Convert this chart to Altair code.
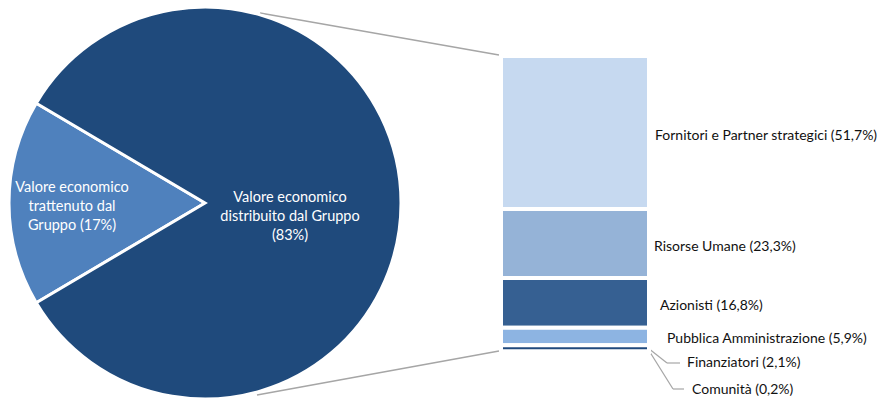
import math
import altair as alt
import pandas as pd

# ---------------- data ----------------
PIE_CATEGORIES = ["Valore economico trattenuto dal Gruppo",
                  "Valore economico distribuito dal Gruppo"]
PIE_VALUES = [17, 83]
PIE_LABELS = ["Valore economico|trattenuto dal|Gruppo (17%)",
              "Valore economico|distribuito dal Gruppo|(83%)"]

BAR_CATEGORIES = ["Fornitori e Partner strategici", "Risorse Umane", "Azionisti",
                  "Pubblica Amministrazione", "Finanziatori", "Comunità"]
BAR_VALUES = [51.7, 23.3, 16.8, 5.9, 2.1, 0.2]
BAR_LABELS = ["Fornitori e Partner strategici (51,7%)", "Risorse Umane (23,3%)",
              "Azionisti (16,8%)", "Pubblica Amministrazione (5,9%)",
              "Finanziatori (2,1%)", "Comunità (0,2%)"]

# ---------------- styles / layout ----------------
PIE_COLORS = ["#4F81BD", "#1F4A7C"]
BAR_COLORS = ["#C6D9F0", "#95B3D7", "#366092", "#8DB4E2", "#1F497D", "#4F81BD"]
FONT = "Lato"
FS = 14
PIE_FS = 14.5
W, H = 895, 400
CX, CY, R = 205, 203, 196
BAR_X0, BAR_X1 = 501, 649
BAR_TOP, BAR_BOTTOM = 56, 352
PIE_LABEL_POS = [(72, 188), (290, 198)]   # centre of first line
BAR_LABEL_X = [655, 654, 660, 667]
LEADER_LABEL_POS = [(687, 363), (692, 390)]
GRAY = "#A6A6A6"

# ---------------- tables ----------------
pie_df = pd.DataFrame({"cat": PIE_CATEGORIES, "value": PIE_VALUES,
                       "idx": list(range(len(PIE_VALUES)))})

starts, ends, mids = [], [], []
top = sum(BAR_VALUES)
for v in BAR_VALUES:
    starts.append(top)
    ends.append(top - v)
    mids.append(top - v / 2)
    top -= v
bar_df = pd.DataFrame({"cat": BAR_CATEGORIES, "value": BAR_VALUES,
                       "start": starts, "end": ends, "mid": mids,
                       "label": BAR_LABELS})

yscale = alt.Scale(domain=[0, 100], range=[BAR_BOTTOM, BAR_TOP])

# pie: light slice centred on 9 o'clock
half = PIE_VALUES[0] / sum(PIE_VALUES) * math.pi
a0 = 1.5 * math.pi - half
pie = alt.Chart(pie_df).mark_arc(outerRadius=R, stroke="white", strokeWidth=3).encode(
    theta=alt.Theta("value:Q", stack=True, scale=alt.Scale(range=[a0, a0 + 2 * math.pi])),
    order=alt.Order("idx:O"),
    color=alt.Color("cat:N", scale=alt.Scale(domain=PIE_CATEGORIES, range=PIE_COLORS), legend=None),
    x=alt.value(CX), y=alt.value(CY),
)

pie_text_layers = []
for lab, (px, py) in zip(PIE_LABELS, PIE_LABEL_POS):
    pie_text_layers.append(
        alt.Chart(pd.DataFrame({"t": [lab]})).mark_text(
            font=FONT, fontSize=PIE_FS, color="white", align="center", baseline="middle",
            lineBreak="|", lineHeight=19,
        ).encode(text="t:N", x=alt.value(px), y=alt.value(py))
    )

bar = alt.Chart(bar_df).mark_rect(stroke="white", strokeWidth=4).encode(
    x=alt.value(BAR_X0), x2=alt.value(BAR_X1),
    y=alt.Y("start:Q", scale=yscale, axis=None), y2="end:Q",
    color=alt.Color("cat:N", scale=alt.Scale(domain=BAR_CATEGORIES, range=BAR_COLORS), legend=None),
)

main_lab_df = bar_df.iloc[:4].copy()
main_lab_df["lx"] = BAR_LABEL_X
bar_labels = alt.Chart(main_lab_df).mark_text(
    font=FONT, fontSize=FS, color="#111111", align="left", baseline="middle", dy=3,
).encode(
    x=alt.X("lx:Q", scale=None, axis=None),
    y=alt.Y("mid:Q", scale=yscale, axis=None),
    text="label:N",
)

leader_text_layers = []
for lab, (px, py) in zip(BAR_LABELS[4:], LEADER_LABEL_POS):
    leader_text_layers.append(
        alt.Chart(pd.DataFrame({"t": [lab]})).mark_text(
            font=FONT, fontSize=FS, color="#111111", align="left", baseline="middle",
        ).encode(text="t:N", x=alt.value(px), y=alt.value(py))
    )

# connector and leader segments (pixel layout)
def seg(x1, y1, x2, y2, width=1.5):
    return alt.Chart(pd.DataFrame({"k": [0]})).mark_rule(
        color=GRAY, strokeWidth=width
    ).encode(x=alt.value(x1), y=alt.value(y1), x2=alt.value(x2), y2=alt.value(y2))

segments = [
    seg(260, 13, BAR_X0 - 2, 55, 1.6),
    seg(257, 395, BAR_X0 - 2, 351, 1.6),
    seg(648, 348, 667, 363, 1.2), seg(667, 363, 680, 363, 1.2),
    seg(648, 349, 673, 389, 1.2), seg(673, 389, 684, 389, 1.2),
]

chart = alt.layer(
    *segments, pie, *pie_text_layers, bar, bar_labels, *leader_text_layers
).resolve_scale(color="independent").properties(
    width=W, height=H, padding=0, autosize=alt.AutoSizeParams(type="none")
).configure_view(stroke=None)

chart.save("out.html", embed_options={"renderer": "svg", "actions": False})
